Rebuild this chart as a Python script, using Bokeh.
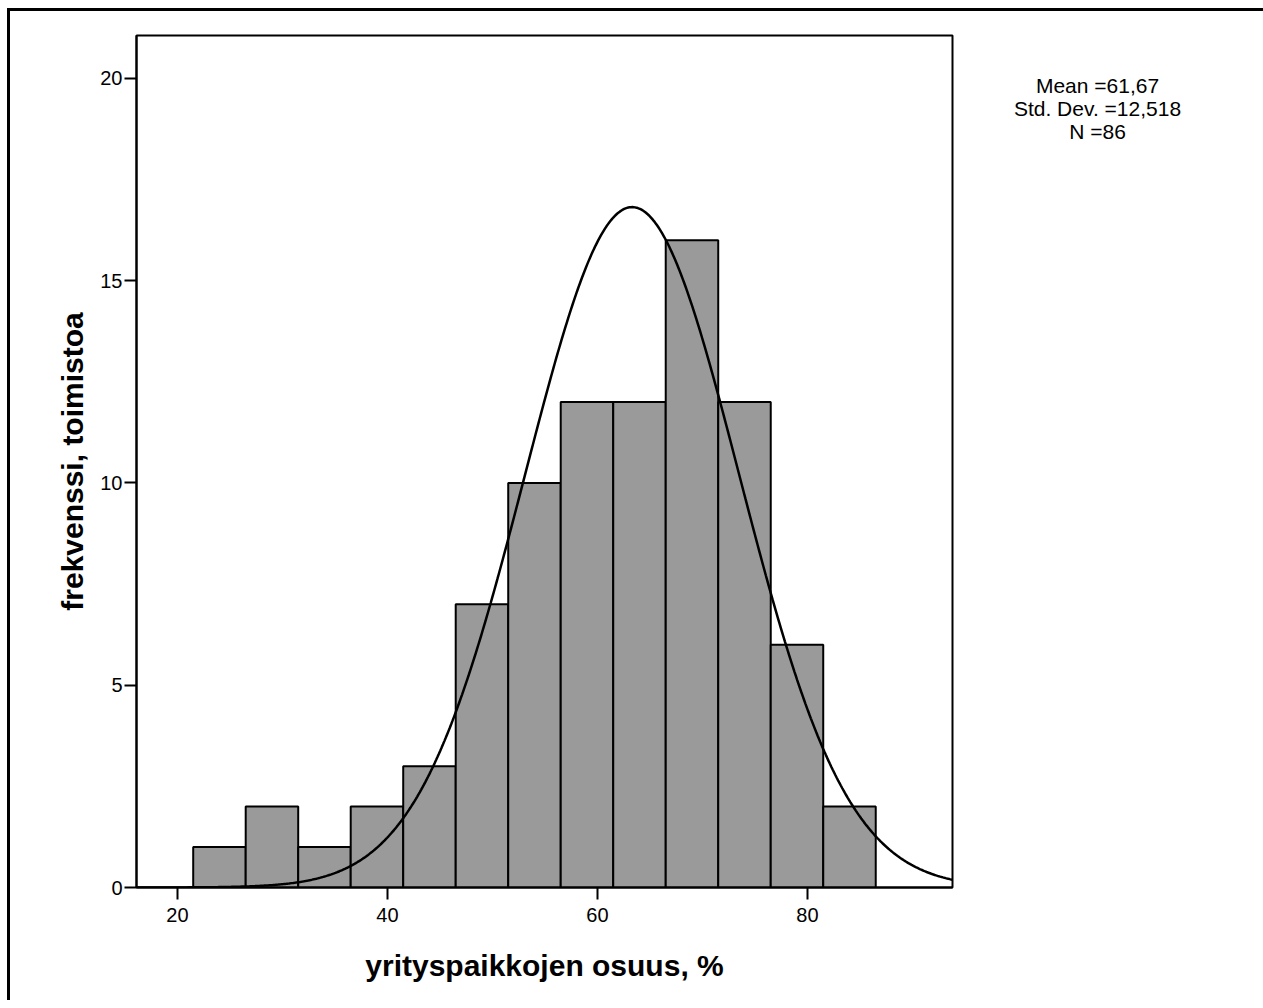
import numpy as np
from bokeh.plotting import figure
from bokeh.layouts import row
from bokeh.models import Range1d, FixedTicker, Label, ColumnDataSource
from bokeh.embed import file_html
from bokeh.resources import INLINE

# ---- data ----
bin_left = [21.5, 26.5, 31.5, 36.5, 41.5, 46.5, 51.5, 56.5, 61.5, 66.5, 71.5, 76.5, 81.5]
bin_width = 5.0
counts = [1, 2, 1, 2, 3, 7, 10, 12, 12, 16, 12, 6, 2]
x_ticks = [20, 40, 60, 80]
y_ticks = [0, 5, 10, 15, 20]
stats_lines = ["Mean =61,67", "Std. Dev. =12,518", "N =86"]
n_total = 86
# normal curve as drawn in the reference
curve_mean = 63.3
curve_sd = 10.2

x_title = "yrityspaikkojen osuus, %"
y_title = "frekvenssi, toimistoa"

FONT = "Liberation Sans"

x0, x1 = 16.1, 93.81
y0, y1 = 0.0, 21.06

H = 1000
FRAME_TOP, FRAME_H = 35, 852
p = figure(width=980, height=H, output_backend="svg", toolbar_location=None,
           x_range=Range1d(x0, x1), y_range=Range1d(y0, y1),
           min_border_left=136, min_border_top=FRAME_TOP, min_border_right=28,
           min_border_bottom=H - FRAME_TOP - FRAME_H)

p.xgrid.visible = False
p.ygrid.visible = False
p.outline_line_color = "black"
p.outline_line_width = 2
p.outline_line_alpha = 1.0
p.background_fill_color = "white"
p.border_fill_alpha = 0

src = ColumnDataSource(dict(
    left=bin_left,
    right=[b + bin_width for b in bin_left],
    top=counts,
    bottom=[0] * len(counts),
))
p.quad(left="left", right="right", top="top", bottom="bottom", source=src,
       fill_color="#9a9a9a", line_color="black", line_width=2)

xs = np.linspace(x0, x1, 600)
ys = n_total * bin_width / (curve_sd * np.sqrt(2 * np.pi)) * np.exp(-0.5 * ((xs - curve_mean) / curve_sd) ** 2)
p.line(xs, ys, line_color="black", line_width=2.5)

for ax in (p.xaxis[0], p.yaxis[0]):
    ax.axis_line_color = "black"
    ax.axis_line_width = 2
    ax.major_tick_line_color = "black"
    ax.major_tick_line_width = 2
    ax.major_tick_in = 0
    ax.major_tick_out = 12
    ax.minor_tick_line_color = None
    ax.major_label_text_font = FONT
    ax.major_label_text_font_size = "20px"
    ax.major_label_text_color = "black"
    ax.axis_label_text_font = FONT
    ax.axis_label_text_font_style = "bold"
    ax.axis_label_text_font_size = "30px"
    ax.axis_label_text_color = "black"

p.xaxis[0].ticker = FixedTicker(ticks=x_ticks)
p.yaxis[0].ticker = FixedTicker(ticks=y_ticks)
p.xaxis[0].major_label_standoff = 8
p.yaxis[0].major_label_standoff = 2
p.xaxis[0].axis_label = x_title
p.yaxis[0].axis_label = y_title
p.xaxis[0].axis_label_standoff = 24
p.yaxis[0].axis_label_standoff = 8

# stats panel to the right of the plot frame (its frame is aligned with the main frame)
W2 = 283
s = figure(width=W2, height=H, output_backend="svg", toolbar_location=None,
           x_range=Range1d(0, W2), y_range=Range1d(0, FRAME_H),
           x_axis_type=None, y_axis_type=None,
           min_border=0, min_border_left=0, min_border_right=0,
           min_border_top=FRAME_TOP, min_border_bottom=H - FRAME_TOP - FRAME_H)
s.grid.visible = False
s.outline_line_color = None
s.background_fill_alpha = 0
s.border_fill_alpha = 0
for i, line in enumerate(stats_lines):
    s.add_layout(Label(x=1097 - 980, y=FRAME_TOP + FRAME_H - (85 + 23 * i), text=line,
                       text_align="center", text_baseline="middle",
                       text_font=FONT, text_font_size="21px", text_color="black"))

layout = row(p, s, spacing=0)
layout.styles = {
    "background": "linear-gradient(#000,#000) 7px 8px / 3px 100% no-repeat, "
                  "linear-gradient(#000,#000) 7px 8px / 100% 3px no-repeat, #fff",
}

open("out.html", "w").write(file_html(layout, INLINE))
